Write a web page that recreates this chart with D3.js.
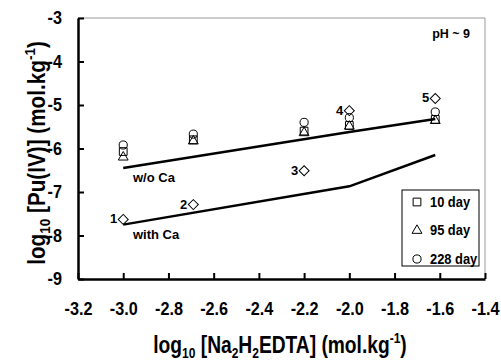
<!DOCTYPE html>
<html>
<head>
<meta charset="utf-8">
<title>Pu(IV) vs EDTA</title>
<script src="https://cdn.jsdelivr.net/npm/d3@7"></script>
<style>
  body { margin: 0; background: #fff; }
  svg text { font-family: "Liberation Sans", Arial, sans-serif; font-weight: bold; fill: #000; }
</style>
</head>
<body>
<div id="chart"></div>
<script>
var w = 501, h = 360;

// data
var xTicks = [-3.2, -3.0, -2.8, -2.6, -2.4, -2.2, -2.0, -1.8, -1.6, -1.4];
var yTicks = [-9, -8, -7, -6, -5, -4, -3];

var edta   = [-3.0, -2.69, -2.2, -2.0, -1.62];
var day10  = [-6.07, -5.80, -5.60, -5.47, -5.33];
var day95  = [-6.20, -5.83, -5.64, -5.49, -5.36];
var day228 = [-5.92, -5.67, -5.40, -5.29, -5.16];

var withCaX  = [-3.0, -2.69, -2.2, -2.0, -1.62];
var withCaY  = [-7.63, -7.29, -6.51, -5.13, -4.85];
var withCaLab = ["1", "2", "3", "4", "5"];

var lineNoCaX = [-3.0, -2.0, -1.62];
var lineNoCaY = [-6.45, -5.62, -5.32];
var lineCaX   = [-3.0, -2.0, -1.62];
var lineCaY   = [-7.75, -6.87, -6.15];

var legendNames = ["10 day", "95 day", "228 day"];

var svg = d3.select("#chart").append("svg")
  .attr("width", w)
  .attr("height", h);

var x = d3.scaleLinear().domain([-3.2, -1.4]).range([78, 485]);
var y = d3.scaleLinear().domain([-9, -3]).range([279, 18]);

// gray top/right frame
svg.append("path")
  .attr("d", "M" + x(-3.2) + "," + y(-3) + "H" + x(-1.4) + "V" + y(-9))
  .attr("fill", "none")
  .attr("stroke", "#999")
  .attr("stroke-width", 1);

// axes
var xAxis = svg.append("g")
  .attr("transform", "translate(0," + y(-9) + ")")
  .call(d3.axisBottom(x).tickValues(xTicks).tickSizeInner(-6).tickSizeOuter(0)
    .tickPadding(23).tickFormat(function(d) { return d.toFixed(1); }));

var yAxis = svg.append("g")
  .attr("transform", "translate(" + x(-3.2) + ",0)")
  .call(d3.axisLeft(y).tickValues(yTicks).tickSizeInner(-6).tickSizeOuter(0)
    .tickPadding(16).tickFormat(function(d) { return String(d); }));

[xAxis, yAxis].forEach(function(a) {
  a.select(".domain").attr("stroke", "#000").attr("stroke-width", 2.5);
  a.selectAll(".tick line").attr("stroke", "#000").attr("stroke-width", 2);
  a.selectAll(".tick text")
    .attr("font-size", 18)
    .attr("font-family", "Liberation Sans, Arial, sans-serif")
    .attr("font-weight", "bold")
    .attr("fill", "#000")
    .attr("transform", "scale(0.9,1)");
});
yAxis.selectAll(".tick text").attr("x", -16 / 0.9);

// model lines
var line = d3.line().x(function(d) { return x(d[0]); }).y(function(d) { return y(d[1]); });
[[lineNoCaX, lineNoCaY], [lineCaX, lineCaY]].forEach(function(s) {
  svg.append("path")
    .datum(d3.zip(s[0], s[1]))
    .attr("d", line)
    .attr("fill", "none")
    .attr("stroke", "#000")
    .attr("stroke-width", 2.5);
});

// markers
var symSquare = d3.symbol().type(d3.symbolSquare).size(60);
var symTri = d3.symbol().type(d3.symbolTriangle).size(42);
var symCircle = d3.symbol().type(d3.symbolCircle).size(52);
var symDiamond = d3.symbol().type(d3.symbolSquare).size(50);

function drawSym(xs, ys, sym, rot) {
  svg.append("g").selectAll("path")
    .data(d3.zip(xs, ys))
    .enter().append("path")
    .attr("d", sym)
    .attr("transform", function(d) {
      return "translate(" + x(d[0]) + "," + y(d[1]) + ")" + (rot ? " rotate(45)" : "");
    })
    .attr("fill", "none")
    .attr("stroke", "#000")
    .attr("stroke-width", 1);
}
drawSym(edta, day10, symSquare);
drawSym(edta, day95, symTri);
drawSym(edta, day228, symCircle);
drawSym(withCaX, withCaY, symDiamond, true);

// point numbers
svg.append("g").selectAll("text")
  .data(d3.zip(withCaX, withCaY, withCaLab))
  .enter().append("text")
  .attr("x", function(d) { return x(d[0]) - 6; })
  .attr("y", function(d) { return y(d[1]) + 4; })
  .attr("text-anchor", "end")
  .attr("font-size", 13)
  .text(function(d) { return d[2]; });

// annotations
svg.append("text").attr("x", 133).attr("y", 182).attr("font-size", 13).text("w/o Ca");
svg.append("text").attr("x", 133).attr("y", 239).attr("font-size", 13).text("with Ca");
svg.append("text").attr("x", 470).attr("y", 38).attr("text-anchor", "end").attr("font-size", 12.5).text("pH ~ 9");

// legend
var legend = svg.append("g").attr("transform", "translate(402,190)");
legend.append("rect")
  .attr("width", 77).attr("height", 76)
  .attr("fill", "#fff").attr("stroke", "#000").attr("stroke-width", 1);
var legSyms = [symSquare, symTri, symCircle];
legendNames.forEach(function(name, i) {
  var cy = 12 + i * 28.5;
  legend.append("path")
    .attr("d", legSyms[i])
    .attr("transform", "translate(15," + cy + ")")
    .attr("fill", "none").attr("stroke", "#000").attr("stroke-width", 1);
  legend.append("text")
    .attr("x", 28).attr("y", cy + 4.8)
    .attr("font-size", 14)
    .attr("transform", "translate(28,0) scale(0.92,1) translate(-28,0)")
    .text(name);
});

// axis titles
var xt = svg.append("text")
  .attr("transform", "translate(280,353) scale(0.8,1)")
  .attr("text-anchor", "middle")
  .attr("font-size", 24);
xt.append("tspan").text("log");
xt.append("tspan").attr("font-size", 15).attr("dy", 5).text("10");
xt.append("tspan").attr("dy", -5).text(" [Na");
xt.append("tspan").attr("font-size", 15).attr("dy", 5).text("2");
xt.append("tspan").attr("dy", -5).text("H");
xt.append("tspan").attr("font-size", 15).attr("dy", 5).text("2");
xt.append("tspan").attr("dy", -5).text("EDTA] (mol.kg");
xt.append("tspan").attr("font-size", 15).attr("dy", -10).text("-1");
xt.append("tspan").attr("dy", 10).text(")");

var yt = svg.append("text")
  .attr("transform", "translate(45,153) rotate(-90) scale(0.9,1)")
  .attr("text-anchor", "middle")
  .attr("font-size", 23);
yt.append("tspan").text("log");
yt.append("tspan").attr("font-size", 15).attr("dy", 5).text("10");
yt.append("tspan").attr("dy", -5).text(" [Pu(IV)] (mol.kg");
yt.append("tspan").attr("font-size", 15).attr("dy", -10).text("-1");
yt.append("tspan").attr("dy", 10).text(")");
</script>
</body>
</html>
